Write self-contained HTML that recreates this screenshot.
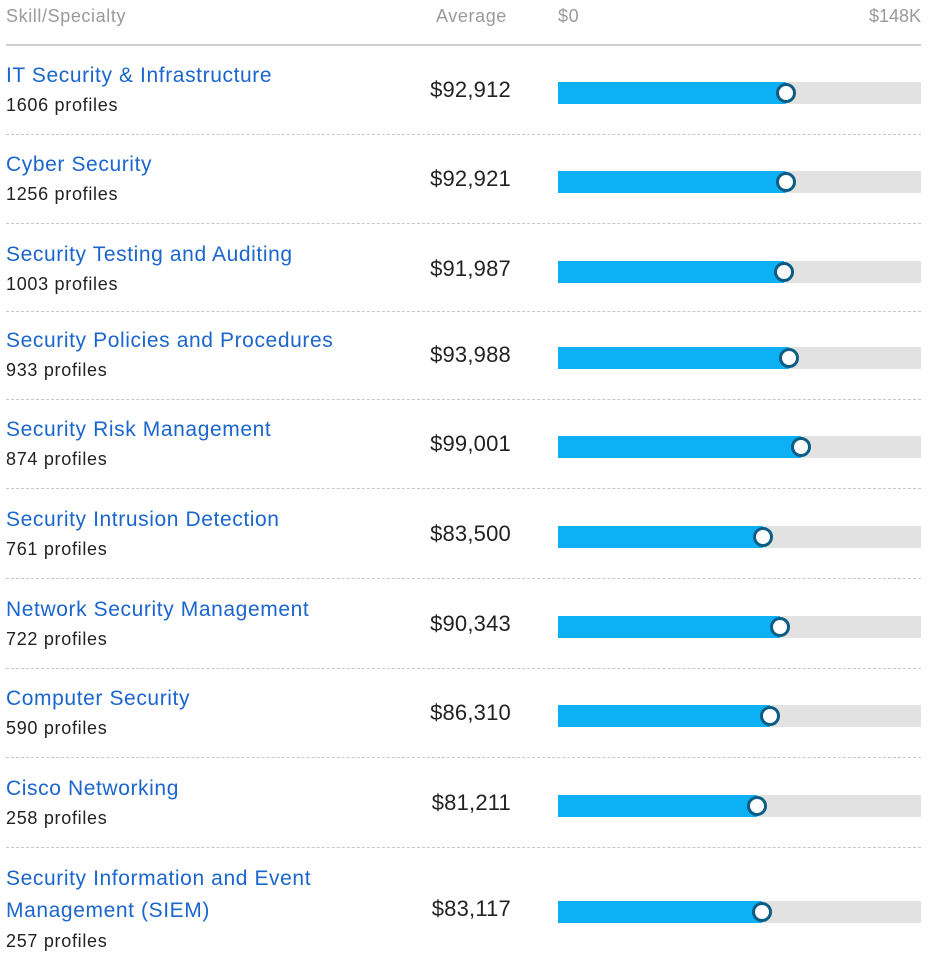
<!DOCTYPE html>
<html><head><meta charset="utf-8">
<style>
body{margin:0;width:938px;height:956px;background:#fff;font-family:"Liberation Sans",Arial,sans-serif;position:relative;overflow:hidden}
.a{position:absolute;white-space:nowrap}
.hd{color:#9a9a9a;font-size:18px;top:6px;letter-spacing:0.6px}
.t{color:#1a66cc;font-size:21px;left:6px;letter-spacing:0.6px}
.p{color:#222;font-size:18px;left:6px;letter-spacing:0.7px}
.v{color:#222;font-size:22px;right:427px;letter-spacing:0.2px}
.sep{position:absolute;left:6px;width:915px;border-top:1px dashed #c8c8c8;height:0}
</style></head><body>
<div class="a hd" style="left:6px">Skill/Specialty</div>
<div class="a hd" style="left:436px">Average</div>
<div class="a hd" style="left:558px">$0</div>
<div class="a hd" style="right:17px;letter-spacing:0">$148K</div>
<div style="position:absolute;left:6px;top:44px;width:915px;height:2px;background:#cfcfcf"></div>
<div id="rows"></div>
<script>
const skills=["IT Security & Infrastructure","Cyber Security","Security Testing and Auditing","Security Policies and Procedures","Security Risk Management","Security Intrusion Detection","Network Security Management","Computer Security","Cisco Networking","Security Information and Event Management (SIEM)"];
const profiles=[1606,1256,1003,933,874,761,722,590,258,257];
const averages=[92912,92921,91987,93988,99001,83500,90343,86310,81211,83117];
const axisMax=148000;
const rowCenters=[93,182,272,358,447,537,627,716,806,912];
const X0=558,W=363;
function xs(v){return X0+v/axisMax*W;}
const root=document.getElementById('rows');
const fmt=v=>'$'+v.toLocaleString('en-US');
for(let i=0;i<skills.length;i++){
  const c=rowCenters[i];
  const two=i===skills.length-1;
  const t=document.createElement('div');t.className='a t';
  
  
  if(two){t.innerHTML='Security Information and Event<br>Management (SIEM)';t.style.lineHeight='32px';t.style.top=(c-49)+'px';}
  else{t.textContent=skills[i];t.style.top=(c-29)+'px';}
  root.appendChild(t);
  const p=document.createElement('div');p.className='a p';
  
  
  p.textContent=profiles[i]+' profiles';p.style.top=(c+(two?19:2))+'px';root.appendChild(p);
  const v=document.createElement('div');v.className='a v';
  
  
  v.textContent=fmt(averages[i]);v.style.top=(c-16)+'px';root.appendChild(v);
  const tr=document.createElement('div');
  
  
  tr.style.cssText=`position:absolute;left:${X0}px;top:${c-11}px;width:${W}px;height:22px;background:#e2e2e2`;root.appendChild(tr);
  const b=document.createElement('div');
  
  
  b.style.cssText=`position:absolute;left:${X0}px;top:${c-11}px;width:${xs(averages[i])-X0}px;height:22px;background:#0db0f3`;root.appendChild(b);
  const m=document.createElement('div');
  
  
  m.style.cssText=`position:absolute;left:${xs(averages[i])-10}px;top:${c-10}px;width:14px;height:14px;border:3px solid #0b5d85;border-radius:50%;background:#fff`;root.appendChild(m);
  if(i<skills.length-1){
    const s=document.createElement('div');s.className='sep';
    
    
    s.style.top=((c+rowCenters[i+1])/2-4+(i===8?-8:0))+'px';root.appendChild(s);
  }
}
</script>
</body></html>
